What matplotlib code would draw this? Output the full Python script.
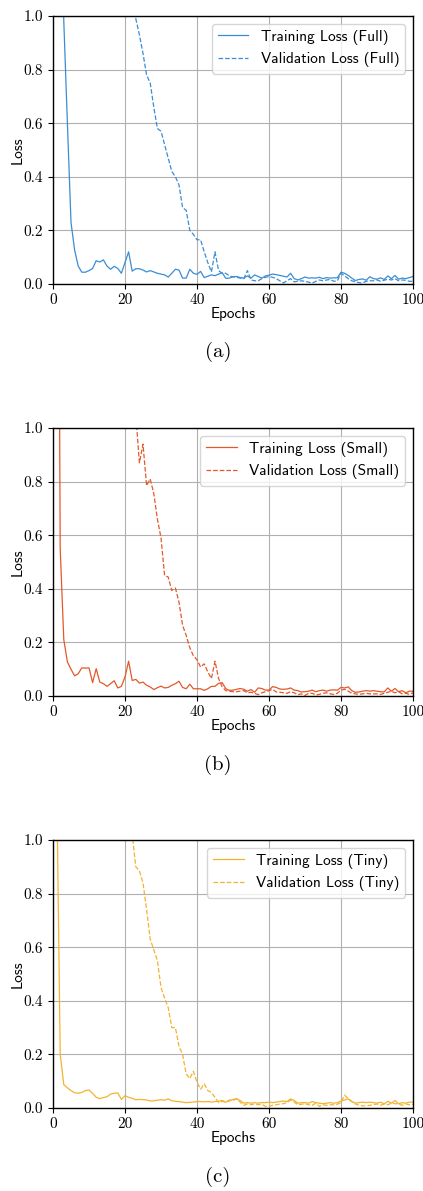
import matplotlib
matplotlib.use("Agg")
import matplotlib.pyplot as plt
import numpy as np

# Loss curves, one value per epoch (1..100).
# Values above 1.0 sit outside the plotted range; they only make the
# curves enter the axes from the top at the right place.
epochs = np.arange(1, 101)

train_full = [
    2.2, 1.5, 0.98, 0.60, 0.23, 0.127, 0.067, 0.044, 0.044, 0.050,
    0.058, 0.087, 0.082, 0.090, 0.067, 0.055, 0.066, 0.058, 0.040, 0.080,
    0.120, 0.048, 0.057, 0.057, 0.052, 0.045, 0.050, 0.045, 0.040, 0.037,
    0.034, 0.026, 0.040, 0.055, 0.052, 0.022, 0.022, 0.055, 0.040, 0.036,
    0.047, 0.024, 0.029, 0.034, 0.031, 0.037, 0.042, 0.021, 0.022, 0.027,
    0.028, 0.024, 0.022, 0.030, 0.022, 0.034, 0.028, 0.022, 0.030, 0.033,
    0.037, 0.035, 0.032, 0.029, 0.026, 0.040, 0.020, 0.015, 0.020, 0.026,
    0.022, 0.023, 0.022, 0.025, 0.020, 0.024, 0.022, 0.023, 0.023, 0.044,
    0.040, 0.032, 0.022, 0.013, 0.017, 0.019, 0.014, 0.027, 0.020, 0.018,
    0.023, 0.017, 0.030, 0.020, 0.032, 0.018, 0.022, 0.020, 0.024, 0.028,
]
val_full = [
    4.1, 3.8, 3.5, 3.2, 3.0, 2.8, 2.6, 2.4, 2.25, 2.1,
    1.95, 1.8, 1.7, 1.6, 1.5, 1.42, 1.35, 1.28, 1.2, 1.14,
    1.09, 1.04, 0.99, 0.93, 0.86, 0.78, 0.75, 0.66, 0.58, 0.57,
    0.52, 0.47, 0.42, 0.40, 0.37, 0.285, 0.275, 0.20, 0.185, 0.165,
    0.165, 0.12, 0.08, 0.045, 0.12, 0.05, 0.04, 0.04, 0.03, 0.027,
    0.025, 0.022, 0.02, 0.05, 0.015, 0.012, 0.012, 0.02, 0.025, 0.028,
    0.025, 0.02, 0.012, 0.004, 0.012, 0.02, 0.008, 0.01, 0.012, 0.01,
    0.007, 0.003, 0.01, 0.015, 0.012, 0.015, 0.017, 0.01, 0.012, 0.04,
    0.03, 0.02, 0.012, 0.008, 0.005, 0.004, 0.01, 0.012, 0.012, 0.015,
    0.01, 0.014, 0.018, 0.015, 0.02, 0.012, 0.015, 0.014, 0.01, 0.01,
]

train_small = [
    3.5, 0.55, 0.21, 0.127, 0.100, 0.075, 0.083, 0.105, 0.104, 0.105,
    0.050, 0.102, 0.052, 0.046, 0.036, 0.046, 0.057, 0.030, 0.036, 0.071,
    0.130, 0.058, 0.062, 0.048, 0.052, 0.040, 0.034, 0.024, 0.031, 0.037,
    0.030, 0.032, 0.040, 0.046, 0.055, 0.032, 0.027, 0.044, 0.027, 0.027,
    0.027, 0.021, 0.027, 0.036, 0.036, 0.047, 0.050, 0.027, 0.021, 0.022,
    0.025, 0.028, 0.025, 0.018, 0.024, 0.014, 0.030, 0.028, 0.022, 0.022,
    0.035, 0.032, 0.026, 0.025, 0.026, 0.030, 0.022, 0.020, 0.015, 0.016,
    0.018, 0.022, 0.016, 0.020, 0.022, 0.018, 0.022, 0.023, 0.022, 0.032,
    0.030, 0.034, 0.020, 0.014, 0.015, 0.018, 0.020, 0.018, 0.020, 0.018,
    0.016, 0.015, 0.030, 0.018, 0.028, 0.016, 0.020, 0.012, 0.018, 0.018,
]
val_small = [
    6.0, 5.2, 4.6, 4.0, 3.6, 3.2, 2.9, 2.6, 2.4, 2.2,
    2.05, 1.9, 1.8, 1.7, 1.6, 1.52, 1.45, 1.38, 1.31, 1.25,
    1.19, 1.12, 1.05, 0.87, 0.94, 0.785, 0.81, 0.755, 0.66, 0.59,
    0.45, 0.444, 0.394, 0.403, 0.35, 0.264, 0.226, 0.18, 0.15, 0.135,
    0.108, 0.12, 0.09, 0.065, 0.13, 0.065, 0.034, 0.02, 0.018, 0.016,
    0.016, 0.018, 0.02, 0.012, 0.014, 0.01, 0.005, 0.012, 0.016, 0.02,
    0.025, 0.015, 0.014, 0.012, 0.01, 0.016, 0.012, 0.005, 0.008, 0.002,
    0.01, 0.01, 0.004, 0.006, 0.01, 0.012, 0.008, 0.006, 0.01, 0.022,
    0.025, 0.018, 0.01, 0.008, 0.006, 0.008, 0.01, 0.008, 0.008, 0.008,
    0.006, 0.01, 0.014, 0.018, 0.012, 0.016, 0.008, 0.01, 0.006, 0.012,
]

train_tiny = [
    1.25, 0.20, 0.087, 0.075, 0.065, 0.057, 0.055, 0.058, 0.065, 0.067,
    0.055, 0.040, 0.035, 0.039, 0.042, 0.052, 0.055, 0.056, 0.032, 0.046,
    0.040, 0.036, 0.031, 0.032, 0.031, 0.030, 0.026, 0.027, 0.029, 0.031,
    0.029, 0.034, 0.027, 0.025, 0.024, 0.022, 0.020, 0.021, 0.022, 0.024,
    0.024, 0.023, 0.024, 0.022, 0.024, 0.025, 0.028, 0.022, 0.026, 0.032,
    0.034, 0.028, 0.018, 0.020, 0.018, 0.020, 0.018, 0.020, 0.020, 0.022,
    0.020, 0.022, 0.024, 0.026, 0.024, 0.034, 0.028, 0.018, 0.020, 0.020,
    0.018, 0.024, 0.020, 0.018, 0.016, 0.018, 0.020, 0.018, 0.020, 0.026,
    0.030, 0.034, 0.024, 0.018, 0.020, 0.022, 0.020, 0.022, 0.020, 0.018,
    0.022, 0.015, 0.025, 0.018, 0.028, 0.016, 0.020, 0.018, 0.022, 0.022,
]
val_tiny = [
    4.0, 3.6, 3.3, 3.0, 2.8, 2.6, 2.4, 2.25, 2.1, 1.98,
    1.86, 1.75, 1.65, 1.56, 1.48, 1.41, 1.34, 1.27, 1.2, 1.14,
    1.08, 1.02, 0.90, 0.885, 0.84, 0.74, 0.63, 0.59, 0.55, 0.45,
    0.41, 0.375, 0.30, 0.30, 0.23, 0.20, 0.127, 0.11, 0.137, 0.096,
    0.07, 0.09, 0.065, 0.058, 0.04, 0.02, 0.025, 0.022, 0.03, 0.028,
    0.035, 0.022, 0.01, 0.015, 0.012, 0.015, 0.012, 0.014, 0.006, 0.006,
    0.01, 0.012, 0.015, 0.016, 0.02, 0.03, 0.022, 0.012, 0.014, 0.016,
    0.012, 0.01, 0.018, 0.006, 0.012, 0.01, 0.012, 0.012, 0.014, 0.02,
    0.048, 0.035, 0.025, 0.015, 0.01, 0.008, 0.008, 0.01, 0.012, 0.015,
    0.01, 0.015, 0.012, 0.018, 0.016, 0.015, 0.01, 0.015, 0.012, 0.014,
]

model_names = ["Full", "Small", "Tiny"]
captions = ["(a)", "(b)", "(c)"]
colors = ["#3a8dd4", "#e4582a", "#f3b32e"]

xticks = [0, 20, 40, 60, 80, 100]
yticks = [0.0, 0.2, 0.4, 0.6, 0.8, 1.0]

SERIF = "cmr10"
SANS = "cmss10"
FS = 11

fig = plt.figure(figsize=(4.23, 11.91), dpi=100)
H = 1191.0
W = 423.0


def draw_panel(ax, train, val, color, name):
    ax.plot(epochs, train, "-", color=color, lw=0.9, label=f"Training Loss ({name})")
    ax.plot(epochs, val, "--", color=color, lw=0.9, label=f"Validation Loss ({name})")
    ax.set_xlim(0, 100)
    ax.set_ylim(0, 1)
    ax.set_xticks(xticks, [str(v) for v in xticks], fontfamily=SERIF, fontsize=FS)
    ax.set_yticks(yticks, [f"{v:.1f}" for v in yticks], fontfamily=SERIF, fontsize=FS)
    ax.grid(True, color="#b0b0b0", lw=0.8)
    ax.set_axisbelow(True)
    for sp in ax.spines.values():
        sp.set_linewidth(1.0)
    ax.set_xlabel("Epochs", fontfamily=SANS, fontsize=FS, labelpad=0)
    ax.set_ylabel("Loss", fontfamily=SANS, fontsize=FS, labelpad=-1)
    ax.legend(loc="upper right", prop={"family": SANS, "size": FS})


series = [(train_full, val_full), (train_small, val_small), (train_tiny, val_tiny)]
ax_tops = [16, 428, 840]
caption_y = [352, 765, 1177]

for i, (train, val) in enumerate(series):
    top = ax_tops[i]
    ax = fig.add_axes([53 / W, 1 - (top + 268) / H, 360 / W, 268 / H])
    draw_panel(ax, train, val, colors[i], model_names[i])
    fig.text(218 / W, 1 - caption_y[i] / H, captions[i], ha="center", va="center",
             fontfamily=SERIF, fontsize=15)

fig.savefig("out.png", dpi=100)
